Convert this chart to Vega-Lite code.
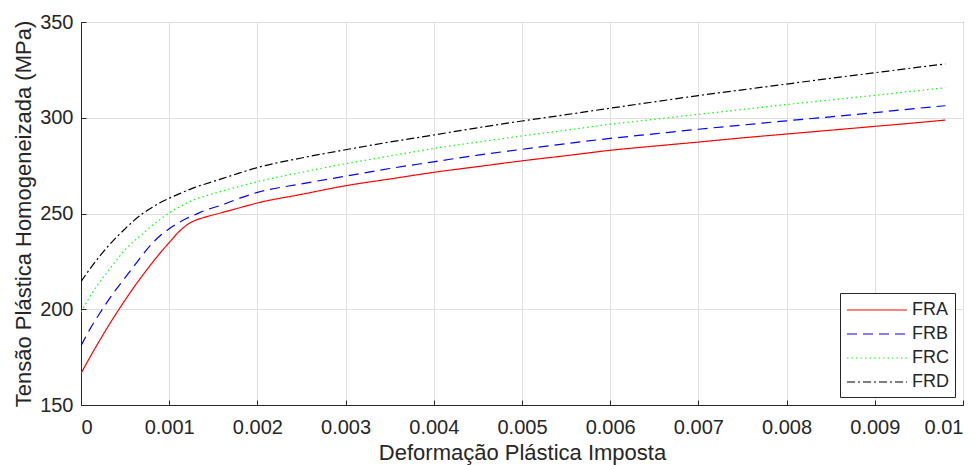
{
  "$schema": "https://vega.github.io/schema/vega-lite/v6.json",
  "width": 882,
  "height": 383,
  "autosize": "none",
  "padding": {"left": 81, "top": 22, "right": 16, "bottom": 60},
  "background": "white",
  "config": {
    "font": "Liberation Sans",
    "view": {"stroke": "#262626", "strokeWidth": 1},
    "axis": {
      "labelFont": "Liberation Sans",
      "titleFont": "Liberation Sans",
      "labelColor": "#262626",
      "titleColor": "#262626",
      "labelFontSize": 20,
      "titleFontSize": 22,
      "titleFontWeight": "normal",
      "domainColor": "#262626",
      "tickColor": "#262626",
      "gridColor": "#e0e0e0",
      "gridWidth": 1
    }
  },
  "datasets": {
    "curves": [
      {"e": 0, "s": 166.5, "serie": "FRA"},
      {"e": 0.0001, "s": 174.8, "serie": "FRA"},
      {"e": 0.0002, "s": 182.8, "serie": "FRA"},
      {"e": 0.0003, "s": 190.5, "serie": "FRA"},
      {"e": 0.0004, "s": 197.8, "serie": "FRA"},
      {"e": 0.0005, "s": 204.8, "serie": "FRA"},
      {"e": 0.0006, "s": 211.5, "serie": "FRA"},
      {"e": 0.0007, "s": 217.8, "serie": "FRA"},
      {"e": 0.0008, "s": 223.8, "serie": "FRA"},
      {"e": 0.0009, "s": 229.5, "serie": "FRA"},
      {"e": 0.001, "s": 234.8, "serie": "FRA"},
      {"e": 0.0011, "s": 240, "serie": "FRA"},
      {"e": 0.0012, "s": 244, "serie": "FRA"},
      {"e": 0.0013, "s": 246.5, "serie": "FRA"},
      {"e": 0.0014, "s": 248, "serie": "FRA"},
      {"e": 0.0016, "s": 250.5, "serie": "FRA"},
      {"e": 0.0018, "s": 253, "serie": "FRA"},
      {"e": 0.002, "s": 255.5, "serie": "FRA"},
      {"e": 0.0025, "s": 260, "serie": "FRA"},
      {"e": 0.003, "s": 264.5, "serie": "FRA"},
      {"e": 0.0035, "s": 268, "serie": "FRA"},
      {"e": 0.004, "s": 271.5, "serie": "FRA"},
      {"e": 0.0045, "s": 274.5, "serie": "FRA"},
      {"e": 0.005, "s": 277.5, "serie": "FRA"},
      {"e": 0.0055, "s": 280.2, "serie": "FRA"},
      {"e": 0.006, "s": 283, "serie": "FRA"},
      {"e": 0.0065, "s": 285.2, "serie": "FRA"},
      {"e": 0.007, "s": 287.3, "serie": "FRA"},
      {"e": 0.0075, "s": 289.5, "serie": "FRA"},
      {"e": 0.008, "s": 291.5, "serie": "FRA"},
      {"e": 0.0085, "s": 293.5, "serie": "FRA"},
      {"e": 0.009, "s": 295.5, "serie": "FRA"},
      {"e": 0.0095, "s": 297.5, "serie": "FRA"},
      {"e": 0.0098, "s": 298.8, "serie": "FRA"},

      {"e": 0, "s": 181, "serie": "FRB"},
      {"e": 0.0001, "s": 189.5, "serie": "FRB"},
      {"e": 0.0002, "s": 197, "serie": "FRB"},
      {"e": 0.0003, "s": 204, "serie": "FRB"},
      {"e": 0.0004, "s": 210.5, "serie": "FRB"},
      {"e": 0.0005, "s": 216.5, "serie": "FRB"},
      {"e": 0.0006, "s": 222.5, "serie": "FRB"},
      {"e": 0.0007, "s": 228.5, "serie": "FRB"},
      {"e": 0.0008, "s": 234, "serie": "FRB"},
      {"e": 0.0009, "s": 238.5, "serie": "FRB"},
      {"e": 0.001, "s": 242, "serie": "FRB"},
      {"e": 0.0011, "s": 245, "serie": "FRB"},
      {"e": 0.0012, "s": 247.5, "serie": "FRB"},
      {"e": 0.0013, "s": 249.5, "serie": "FRB"},
      {"e": 0.0014, "s": 251.5, "serie": "FRB"},
      {"e": 0.0016, "s": 254.5, "serie": "FRB"},
      {"e": 0.0018, "s": 258, "serie": "FRB"},
      {"e": 0.002, "s": 261, "serie": "FRB"},
      {"e": 0.0025, "s": 265.5, "serie": "FRB"},
      {"e": 0.003, "s": 269.5, "serie": "FRB"},
      {"e": 0.0035, "s": 273.5, "serie": "FRB"},
      {"e": 0.004, "s": 277, "serie": "FRB"},
      {"e": 0.0045, "s": 280.5, "serie": "FRB"},
      {"e": 0.005, "s": 283.5, "serie": "FRB"},
      {"e": 0.0055, "s": 286.5, "serie": "FRB"},
      {"e": 0.006, "s": 289.2, "serie": "FRB"},
      {"e": 0.0065, "s": 291.6, "serie": "FRB"},
      {"e": 0.007, "s": 294, "serie": "FRB"},
      {"e": 0.0075, "s": 296.2, "serie": "FRB"},
      {"e": 0.008, "s": 298.4, "serie": "FRB"},
      {"e": 0.0085, "s": 300.5, "serie": "FRB"},
      {"e": 0.009, "s": 302.7, "serie": "FRB"},
      {"e": 0.0095, "s": 305, "serie": "FRB"},
      {"e": 0.0098, "s": 306.3, "serie": "FRB"},

      {"e": 0, "s": 198.5, "serie": "FRC"},
      {"e": 0.0001, "s": 206.5, "serie": "FRC"},
      {"e": 0.0002, "s": 213.5, "serie": "FRC"},
      {"e": 0.0003, "s": 219.5, "serie": "FRC"},
      {"e": 0.0004, "s": 225.5, "serie": "FRC"},
      {"e": 0.0005, "s": 231, "serie": "FRC"},
      {"e": 0.0006, "s": 235.5, "serie": "FRC"},
      {"e": 0.0007, "s": 239.5, "serie": "FRC"},
      {"e": 0.0008, "s": 243.5, "serie": "FRC"},
      {"e": 0.0009, "s": 247, "serie": "FRC"},
      {"e": 0.001, "s": 250.4, "serie": "FRC"},
      {"e": 0.0011, "s": 253, "serie": "FRC"},
      {"e": 0.0012, "s": 255.5, "serie": "FRC"},
      {"e": 0.0013, "s": 257.5, "serie": "FRC"},
      {"e": 0.0014, "s": 259, "serie": "FRC"},
      {"e": 0.0016, "s": 261.7, "serie": "FRC"},
      {"e": 0.0018, "s": 264.2, "serie": "FRC"},
      {"e": 0.002, "s": 266.6, "serie": "FRC"},
      {"e": 0.0025, "s": 271.5, "serie": "FRC"},
      {"e": 0.003, "s": 276, "serie": "FRC"},
      {"e": 0.0035, "s": 280, "serie": "FRC"},
      {"e": 0.004, "s": 284, "serie": "FRC"},
      {"e": 0.0045, "s": 287.3, "serie": "FRC"},
      {"e": 0.005, "s": 290.5, "serie": "FRC"},
      {"e": 0.0055, "s": 293.5, "serie": "FRC"},
      {"e": 0.006, "s": 296.6, "serie": "FRC"},
      {"e": 0.0065, "s": 299.2, "serie": "FRC"},
      {"e": 0.007, "s": 301.8, "serie": "FRC"},
      {"e": 0.0075, "s": 304.3, "serie": "FRC"},
      {"e": 0.008, "s": 306.9, "serie": "FRC"},
      {"e": 0.0085, "s": 309.3, "serie": "FRC"},
      {"e": 0.009, "s": 311.7, "serie": "FRC"},
      {"e": 0.0095, "s": 314.2, "serie": "FRC"},
      {"e": 0.0098, "s": 315.7, "serie": "FRC"},

      {"e": 0, "s": 214.4, "serie": "FRD"},
      {"e": 0.0001, "s": 221, "serie": "FRD"},
      {"e": 0.0002, "s": 227, "serie": "FRD"},
      {"e": 0.0003, "s": 232.5, "serie": "FRD"},
      {"e": 0.0004, "s": 237.5, "serie": "FRD"},
      {"e": 0.0005, "s": 242, "serie": "FRD"},
      {"e": 0.0006, "s": 246.3, "serie": "FRD"},
      {"e": 0.0007, "s": 250, "serie": "FRD"},
      {"e": 0.0008, "s": 253, "serie": "FRD"},
      {"e": 0.0009, "s": 255.7, "serie": "FRD"},
      {"e": 0.001, "s": 258, "serie": "FRD"},
      {"e": 0.0011, "s": 260, "serie": "FRD"},
      {"e": 0.0012, "s": 262, "serie": "FRD"},
      {"e": 0.0013, "s": 263.8, "serie": "FRD"},
      {"e": 0.0014, "s": 265.3, "serie": "FRD"},
      {"e": 0.0016, "s": 268.2, "serie": "FRD"},
      {"e": 0.0018, "s": 271.2, "serie": "FRD"},
      {"e": 0.002, "s": 274, "serie": "FRD"},
      {"e": 0.0025, "s": 279, "serie": "FRD"},
      {"e": 0.003, "s": 283.3, "serie": "FRD"},
      {"e": 0.0035, "s": 287.3, "serie": "FRD"},
      {"e": 0.004, "s": 291, "serie": "FRD"},
      {"e": 0.0045, "s": 294.8, "serie": "FRD"},
      {"e": 0.005, "s": 298.3, "serie": "FRD"},
      {"e": 0.0055, "s": 301.6, "serie": "FRD"},
      {"e": 0.006, "s": 305, "serie": "FRD"},
      {"e": 0.0065, "s": 308.3, "serie": "FRD"},
      {"e": 0.007, "s": 311.6, "serie": "FRD"},
      {"e": 0.0075, "s": 314.6, "serie": "FRD"},
      {"e": 0.008, "s": 317.6, "serie": "FRD"},
      {"e": 0.0085, "s": 320.6, "serie": "FRD"},
      {"e": 0.009, "s": 323.5, "serie": "FRD"},
      {"e": 0.0095, "s": 326.4, "serie": "FRD"},
      {"e": 0.0098, "s": 328.1, "serie": "FRD"}
    ]
  },
  "data": {"name": "curves"},
  "mark": {"type": "line", "interpolate": "monotone", "strokeWidth": 1.2, "clip": true},
  "encoding": {
    "x": {
      "field": "e",
      "type": "quantitative",
      "scale": {"domain": [0, 0.01], "nice": false, "zero": false},
      "axis": {
        "title": "Deformação Plástica Imposta",
        "values": [0, 0.001, 0.002, 0.003, 0.004, 0.005, 0.006, 0.007, 0.008, 0.009, 0.01],
        "format": ".3~f",
        "tickSize": -5,
        "labelPadding": 17,
        "titlePadding": 5,
        "grid": true
      }
    },
    "y": {
      "field": "s",
      "type": "quantitative",
      "scale": {"domain": [150, 350], "nice": false, "zero": false},
      "axis": {
        "title": "Tensão Plástica Homogeneizada (MPa)",
        "values": [150, 200, 250, 300, 350],
        "tickSize": -5,
        "labelPadding": 13,
        "titlePadding": 4,
        "grid": true
      }
    },
    "color": {
      "field": "serie",
      "type": "nominal",
      "scale": {"domain": ["FRA", "FRB", "FRC", "FRD"], "range": ["#ff0000", "#0000ff", "#00ff00", "#000000"]},
      "legend": {
        "title": null,
        "orient": "bottom-right",
        "offset": 8,
        "strokeColor": "#262626",
        "fillColor": "white",
        "padding": 6,
        "labelFontSize": 18,
        "labelColor": "#262626",
        "labelFont": "Liberation Sans",
        "symbolType": "M-1,0H5",
        "symbolSize": 400,
        "symbolStrokeWidth": 1.2,
        "labelOffset": 44,
        "rowPadding": 4
      }
    },
    "strokeDash": {
      "field": "serie",
      "type": "nominal",
      "scale": {"domain": ["FRA", "FRB", "FRC", "FRD"], "range": [[1, 0], [10, 6], [1.5, 3], [8, 3, 2, 3]]},
      "legend": null
    }
  }
}
